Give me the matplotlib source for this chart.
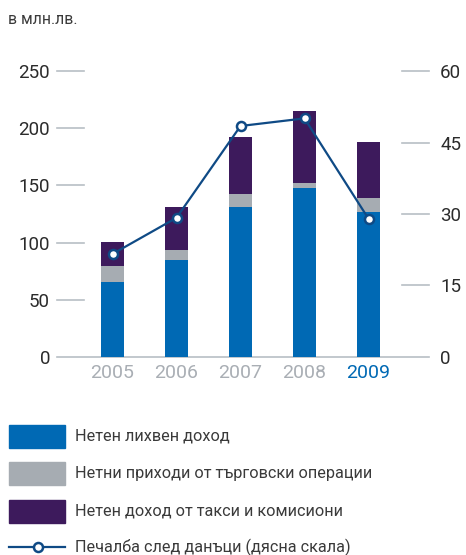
import matplotlib
matplotlib.use("Agg")
import matplotlib.pyplot as plt
import matplotlib.patches as mpatches
from matplotlib.lines import Line2D
import numpy as np

plt.rcParams['font.family'] = ['Roboto', 'DejaVu Sans']

# данни (млн. лв.)
years = ['2005', '2006', '2007', '2008', '2009']
interest = [65.4, 84.7, 131.1, 147.8, 126.7]     # нетен лихвен доход
trading = [13.9, 8.7, 11.4, 4.3, 12.3]           # търговски операции
fees = [21.1, 37.7, 49.9, 63.1, 49.0]            # такси и комисиони
profit = [21.6, 29.2, 48.5, 50.1, 29.0]          # печалба след данъци (дясна скала)

left_ticks = [0, 50, 100, 150, 200, 250]
right_ticks = [0, 15, 30, 45, 60]

labels = ['Нетен лихвен доход',
          'Нетни приходи от търговски операции',
          'Нетен доход от такси и комисиони',
          'Печалба след данъци (дясна скала)']

c_blue = '#0069b4'
c_gray = '#a6acb2'
c_purple = '#3d1a5c'
c_line = '#0f4a85'
c_tick = '#b8bfc5'
c_year = '#a9aeb4'

W, H = 466, 555
fig = plt.figure(figsize=(W / 100, H / 100), dpi=100)

def fx(px):
    return px / W

def fy(py):
    return 1 - py / H

# оста: от x=57 до 429, y от 71.3 до 356.7 пиксела
ax = fig.add_axes([fx(57), fy(356.7), fx(429) - fx(57), fy(71.3) - fy(356.7)])
x = np.arange(len(years))
step = 64.0
ax.set_xlim((57 - 112.5) / step, (429 - 112.5) / step)
ax.set_ylim(0, 250)

bw = 23 / step
ax.bar(x, interest, bw, color=c_blue, zorder=2)
ax.bar(x, trading, bw, bottom=interest, color=c_gray, zorder=2)
bottom2 = [a + b for a, b in zip(interest, trading)]
ax.bar(x, fees, bw, bottom=bottom2, color=c_purple, zorder=2)

for s in ['top', 'left', 'right']:
    ax.spines[s].set_visible(False)
ax.spines['bottom'].set_color(c_tick)
ax.spines['bottom'].set_linewidth(1.2)
ax.spines['bottom'].set_zorder(1)

ax.set_yticks(left_ticks)
ax.set_yticklabels([str(t) for t in left_ticks])
ax.tick_params(axis='y', length=0, pad=5, labelsize=13.5, labelcolor='#2b2b2b')
ax.set_xticks(x)
ax.set_xticklabels(years)
ax.tick_params(axis='x', length=0, pad=5, labelsize=14)
for i, lab in enumerate(ax.get_xticklabels()):
    lab.set_color(c_blue if i == len(years) - 1 else c_year)

tr = ax.get_yaxis_transform()
lt = 27 / 372
for t in left_ticks[1:]:
    ax.plot([0, lt], [t, t], transform=tr, color=c_tick, lw=1.2, clip_on=False)
for t in right_ticks[1:]:
    ax.plot([1 - lt, 1], [t * 250 / 60, t * 250 / 60], transform=tr,
            color=c_tick, lw=1.2, clip_on=False)

ax2 = ax.twinx()
ax2.set_ylim(0, 60)
ax2.set_yticks(right_ticks)
ax2.set_yticklabels([str(t) for t in right_ticks])
ax2.tick_params(axis='y', length=0, pad=8, labelsize=13.5, labelcolor='#2b2b2b')
for s in ax2.spines.values():
    s.set_visible(False)
ax2.plot(x, profit, color=c_line, lw=1.6, marker='o', ms=6.5,
         mfc='white', mec=c_line, mew=1.8, zorder=3, clip_on=False)

fig.text(fx(8), fy(20), 'в млн.лв.', fontsize=11.3, color='#3a3a3a',
         va='center', ha='left')

# легенда
ys = [436.3, 473.3, 511.3]
cols = [c_blue, c_gray, c_purple]
for yy, cc, lab in zip(ys, cols, labels[:3]):
    fig.patches.append(mpatches.Rectangle((fx(9), fy(yy + 11.5)), fx(56), 23 / H,
                                          transform=fig.transFigure,
                                          color=cc, figure=fig))
    fig.text(fx(75), fy(yy), lab, fontsize=11.7, color='#3a3a3a',
             va='center', ha='left')
fig.lines.append(Line2D([fx(9), fx(65)], [fy(547.3), fy(547.3)],
                        transform=fig.transFigure, color=c_line, lw=1.6))
fig.lines.append(Line2D([fx(38)], [fy(547.3)], transform=fig.transFigure,
                        marker='o', ms=6.5, mfc='white', mec=c_line, mew=1.8))
fig.text(fx(75), fy(547.3), labels[3], fontsize=11.7, color='#3a3a3a',
         va='center', ha='left')

fig.savefig('out.png', dpi=100)
